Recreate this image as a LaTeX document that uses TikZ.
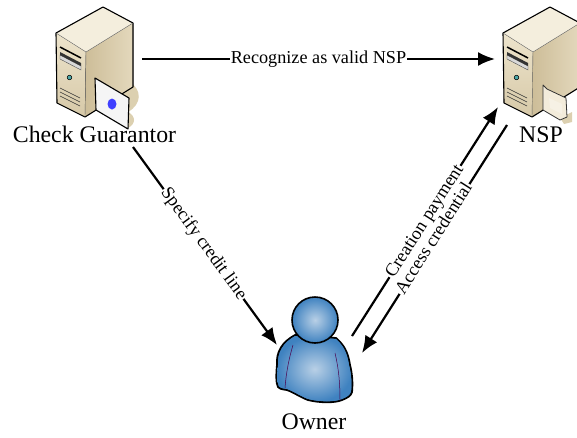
\documentclass[tikz,border=0pt]{standalone}
\usepackage{fontspec}
\setmainfont{Liberation Serif}
\definecolor{servertop}{HTML}{F4EEDD}
\definecolor{serverfront}{HTML}{EDE4CC}
\definecolor{serverside}{HTML}{CDBD98}
\definecolor{servershadow}{HTML}{DCD0B0}
\definecolor{ownerblue}{HTML}{3F82C0}
\definecolor{ownerlight}{HTML}{B9D0E6}
\tikzset{
  flow/.style={draw=black, line width=2.2pt, -{Latex[length=17pt,width=14pt]}},
  flowlabel/.style={fill=white, inner xsep=1pt, inner ysep=0pt, text height=9pt, text depth=0pt, font=\fontsize{18.2}{20}\selectfont, sloped},
  iconlabel/.style={inner sep=0pt, font=\fontsize{23.8}{26}\selectfont},
  server/.pic={
    \fill[top color=serverfront, bottom color=serverside!70!serverfront] (56,33) -- (86,52) -- (85,117) -- (57,103) -- cycle;
    \fill[left color=serverside, right color=serverfront!70!serverside] (86,52) -- (133,23) -- (133,87) -- (85,117) -- cycle;
    \fill[servertop] (56,33) -- (103,7) -- (133,23) -- (86,52) -- cycle;
    \draw[black, line width=1.1pt, line join=round] (56,33) -- (103,7) -- (133,23) -- (133,87) -- (85,117) -- (57,103) -- cycle;
    \draw[black!60, line width=0.4pt] (56,33) -- (86,52) -- (133,23) (86,52) -- (85,117);
    \draw[black, line width=1.5pt] (60,47) -- (81,58);
    \fill[white!70!gray, draw=black!70, line width=0.4pt] (60,55) -- (81,66) -- (81,70) -- (60,59) -- cycle;
    \fill[black!80] (60,52) -- (81,63) -- (81,66) -- (60,55) -- cycle;
    \fill[teal!70!white, draw=black, line width=0.5pt] (69.5,77.5) circle (2.3);
    \foreach \vent in {0,4,8} {
      \draw[black!80, line width=0.6pt] (60,88+\vent) -- (80,98+\vent);
    }
  }
}
\usetikzlibrary{arrows.meta}
\begin{document}
\begin{tikzpicture}[x=1pt, y=-1pt]
\useasboundingbox (0,0) rectangle (577,437);

% check guarantor
\fill[servershadow] (130,82) .. controls (142,90) and (142,104) .. (128,112) .. controls (136,116) and (136,124) .. (128,128) -- (100,112) -- cycle;
\pic at (0,0) {server};
\fill[white!92!gray, draw=black, line width=1.1pt, line join=round] (95,78) -- (129,98) -- (128,129) -- (96,110) -- cycle;
\fill[blue!75!white] (112,104) ellipse (4.5 and 5.5);

% nsp
\fill[servershadow] (560,118) -- (572,112) -- (572,122) -- (564,124) -- cycle;
\begin{scope}
\clip (470,0) rectangle (577,437);
\pic at (447,0) {server};
\end{scope}
\fill[serverfront!70!white, draw=black!80, line width=0.8pt, line join=round] (543,85) -- (547,89) -- (566,98) -- (567,117) -- (560,120) -- (543,110) -- cycle;
\fill[white!50!serverfront] (549,98) -- (562,104) -- (562,114) -- (550,108) -- cycle;

% owner
\fill[ownerblue, draw=black, line width=1.8pt, line join=round]
  (295,335) .. controls (282,342) and (276,352) .. (277,365)
  .. controls (276,375) and (276,383) .. (278,387)
  .. controls (281,390) and (284,389) .. (287,390)
  .. controls (295,393) and (300,397) .. (308,400)
  .. controls (320,403) and (335,403) .. (342,400)
  .. controls (347,398) and (351,396) .. (352,392)
  .. controls (353,382) and (352,373) .. (350,365)
  .. controls (348,352) and (344,345) .. (336,338) -- cycle;
\shade[inner color=ownerlight, outer color=ownerblue]
  (295,336) .. controls (283,343) and (278,352) .. (278,365)
  .. controls (277,375) and (277,383) .. (279,386)
  .. controls (282,389) and (284,388) .. (287,389)
  .. controls (295,392) and (300,396) .. (308,399)
  .. controls (320,402) and (335,402) .. (342,399)
  .. controls (347,397) and (350,395) .. (351,391)
  .. controls (352,382) and (351,373) .. (349,365)
  .. controls (347,352) and (343,345) .. (336,339) -- cycle;
\draw[violet!60!black, line width=0.5pt] (293,345) .. controls (288,362) and (286,375) .. (285,388);
\draw[violet!60!black, line width=0.5pt] (335,353) .. controls (339,370) and (340,385) .. (340,400);
\shade[inner color=ownerlight, outer color=ownerblue, draw=black, line width=1.6pt] (315,320) circle (23);

\node[iconlabel] (guarantor) at (94.5,134) {Check Guarantor};
\node[iconlabel] (nsp) at (541,135) {NSP};
\node[iconlabel] (owner) at (314,422) {Owner};

\coordinate (rec-a) at (142,59);
\coordinate (rec-b) at (495,59);
\coordinate (spec-a) at (133,147);
\coordinate (spec-b) at (277,345);
\coordinate (pay-a) at (352,336);
\coordinate (pay-b) at (498,107);
\coordinate (cred-a) at (507,125);
\coordinate (cred-b) at (362,353);

\draw[flow] (rec-a) -- node[flowlabel, pos=0.5] (rec) {Recognize as valid NSP} (rec-b);
\draw[flow] (spec-a) -- node[flowlabel, pos=0.49] (spec) {Specify credit line} (spec-b);
\draw[flow] (pay-a) -- node[flowlabel, pos=0.5] (pay) {Creation payment} (pay-b);
\draw[flow] (cred-a) -- node[flowlabel, pos=0.5] (cred) {Access credential} (cred-b);
\end{tikzpicture}
\end{document}
